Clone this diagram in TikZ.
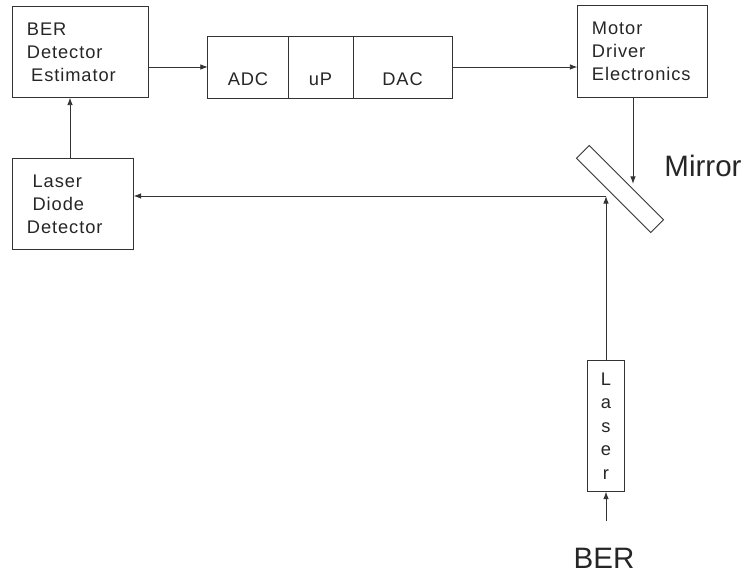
\documentclass[tikz,border=0pt]{standalone}
\usepackage{fontspec}
\setmainfont{Liberation Sans}
\newfontfamily\boxfont[LetterSpace=5]{Liberation Sans}
\usetikzlibrary{arrows.meta,positioning}
\tikzset{
  blk/.style={draw=black!80, line width=0.7pt, align=left, inner xsep=0.35cm, inner ysep=0pt,
    font=\boxfont\fontsize{13}{16.3}\selectfont, text=black!85},
  cell/.style={draw=black!80, line width=0.7pt, outer sep=0pt, inner ysep=0pt,
    text height=1.24cm, text depth=0.31cm, font=\boxfont\fontsize{13}{15}\selectfont, text=black!85},
  arr/.style={draw=black!80, line width=0.7pt, -{Latex[length=5.5pt,width=4pt]}},
  big/.style={font=\fontsize{21}{24}\selectfont, text=black!85}
}
\begin{document}
\begin{tikzpicture}[x=0.025cm,y=-0.025cm]
\useasboundingbox (0,0) rectangle (744,573);
% Bloecke links
\node[blk, text width=2.675cm, minimum height=2.25cm] (bde) at (80.5,52)
  {BER\\Detector\\\hspace{3pt}Estimator};
\node[blk, text width=2.3cm, minimum height=2.25cm] (ldd) at (73,204)
  {\hspace{4pt}Laser\\\hspace{4pt}Diode\\Detector};
% ADC - uP - DAC
\node[cell, minimum width=2cm] (adc) at (248,67) {ADC};
\node[cell, minimum width=1.625cm, right=0pt of adc] (up) {uP};
\node[cell, minimum width=2.475cm, right=0pt of up] (dac) {DAC};
% Motortreiber
\node[blk, text width=2.525cm, minimum height=2.275cm] (mde) at (642.5,51.5)
  {Motor\\Driver\\Electronics};
% Spiegel, um -45 Grad gedreht
\node[draw=black!80, line width=0.7pt, minimum width=2.625cm, minimum height=0.45cm,
  rotate=-45] (mir) at (620,189) {};
\node[big] (mirlbl) at (703,166) {Mirror};
% Laser
\node[blk, inner xsep=0pt, align=center, minimum width=0.925cm, minimum height=3.25cm,
  font=\boxfont\fontsize{13}{16.8}\selectfont] (las) at (606,426) {L\\a\\s\\e\\r};
\node[big] (berlbl) at (604,558) {BER};
% Strahlpunkte
\coordinate (hit) at (633,184);
\coordinate (refl) at (606,196);
\coordinate (src) at (606,521);
% Verbindungen
\draw[arr] (bde.east |- adc.west) -- (adc.west);
\draw[arr] (dac.east) -- (mde.west |- dac.east);
\draw[arr] (mde.south -| hit) -- (hit);
\draw[arr] (las.north) -- (refl);
\draw[arr] (refl) -- (ldd.east |- refl);
\draw[arr] (ldd.north -| 70,0) -- (bde.south -| 70,0);
\draw[arr] (src) -- (las.south);
\end{tikzpicture}
\end{document}
